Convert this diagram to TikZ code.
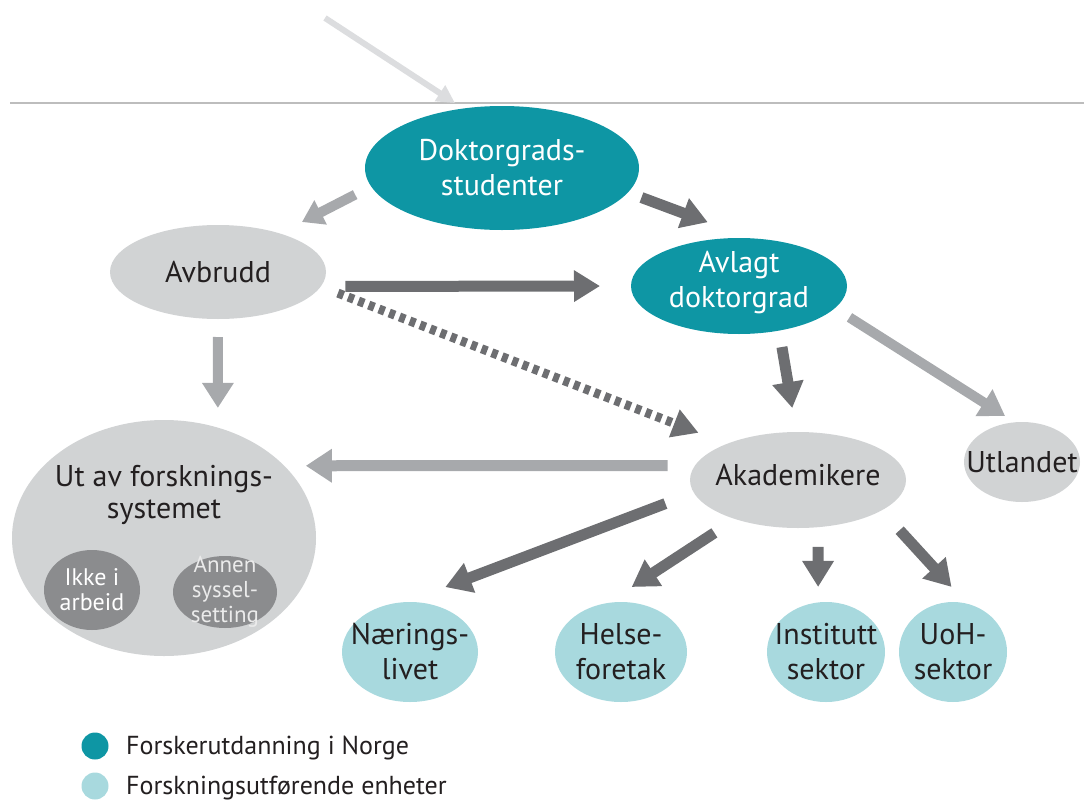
\documentclass[tikz,border=0pt]{standalone}
\usepackage{fontspec}
\setmainfont{PT Sans}
\usetikzlibrary{shapes.geometric,arrows.meta}
\definecolor{tealA}{HTML}{0E96A4}
\definecolor{tealL}{HTML}{A8D9DE}
\definecolor{greyF}{HTML}{D1D3D4}
\definecolor{greyD}{HTML}{8B8C8E}
\definecolor{arrD}{HTML}{6D6E71}
\definecolor{arrL}{HTML}{A7A9AC}
\definecolor{arrT}{HTML}{DCDDDF}
\definecolor{txtD}{HTML}{231F20}
\definecolor{ruleC}{HTML}{BDBDBD}
\begin{document}
\begin{tikzpicture}[x=1pt,y=-1pt,
  ell/.style={ellipse, inner sep=0pt, outer sep=0pt},
  tealell/.style={ell, fill=tealA},
  greyell/.style={ell, fill=greyF},
  darkell/.style={ell, fill=greyD},
  sectell/.style={ell, fill=tealL},
  lbl/.style={align=center, text=txtD, font=\fontsize{30}{35}\selectfont},
  wlbl/.style={lbl, text=white},
  slbl/.style={align=center, text=white, font=\fontsize{24}{25}\selectfont},
  legtxt/.style={anchor=west, text=txtD, font=\fontsize{26}{30}\selectfont, inner sep=0pt},
  legdot/.style={circle, minimum size=27pt, inner sep=0pt},
  darr/.style={draw=arrD, line width=11pt, -{Triangle[width=30pt,length=26pt]}},
  larr/.style={draw=arrL, line width=10pt, -{Triangle[width=30pt,length=25pt]}},
  dasharr/.style={draw=arrD, line width=9pt, dash pattern=on 6pt off 5pt, -{Triangle[width=28pt,length=26pt]}},
  toparr/.style={draw=arrT, line width=6pt, -{Triangle[width=18pt,length=18pt]}}
]
\useasboundingbox (0,0) rectangle (1084,803);

% horizontal rule
\draw[ruleC, line width=1.2pt] (10,103) -- (1084,103);

% nodes
\node[tealell, minimum width=274pt, minimum height=124pt,
  label={[wlbl]center:{Doktorgrads-\\studenter}}] (doc) at (502,168) {};
\node[greyell, minimum width=216pt, minimum height=94pt,
  label={[lbl]center:Avbrudd}] (avb) at (218,272) {};
\node[tealell, minimum width=216pt, minimum height=96pt,
  label={[wlbl, yshift=3pt]center:{Avlagt\\doktorgrad}}] (avl) at (739,286) {};
\node[greyell, minimum width=304pt, minimum height=236pt,
  label={[lbl, font=\fontsize{30}{32}\selectfont, yshift=43pt]center:{Ut av forsknings-\\systemet}}] (ut) at (164,538) {};
\node[darkell, minimum width=96pt, minimum height=80pt,
  label={[slbl]center:{Ikke i\\arbeid}}] (ikke) at (92,590) {};
\node[darkell, minimum width=104pt, minimum height=72pt,
  label={[slbl, text=white!92!black, font=\fontsize{23}{25}\selectfont]center:{Annen\\syssel-\\setting}}] (annen) at (225,592) {};
\node[greyell, minimum width=216pt, minimum height=96pt,
  label={[lbl, yshift=5pt]center:Akademikere}] (akad) at (798,480) {};
\node[greyell, minimum width=116pt, minimum height=80pt,
  label={[lbl]center:Utlandet}] (utl) at (1022,462) {};
\node[sectell, minimum width=136pt, minimum height=100pt,
  label={[lbl]center:{Nærings-\\livet}}] (naer) at (410,652) {};
\node[sectell, minimum width=132pt, minimum height=100pt,
  label={[lbl]center:{Helse-\\foretak}}] (helse) at (621,652) {};
\node[sectell, minimum width=118pt, minimum height=100pt,
  label={[lbl]center:{Institutt\\sektor}}] (inst) at (826,652) {};
\node[sectell, minimum width=108pt, minimum height=100pt,
  label={[lbl]center:{UoH-\\sektor}}] (uoh) at (953,652) {};

% legend
\node[legdot, fill=tealA] (lg1) at (95,746) {};
\node[legtxt] (lg1t) at (126,748) {Forskerutdanning i Norge};
\node[legdot, fill=tealL] (lg2) at (95,786) {};
\node[legtxt] (lg2t) at (126,788) {Forskningsutførende enheter};

% connectors
\coordinate (src) at (325,18);
\draw[toparr, shorten >=10pt] (src) -- (doc.123);
\draw[larr, -{Triangle[width=26pt,length=21pt]}, shorten <=18pt, shorten >=25pt] (doc.188) -- (avb.32);
\draw[darr, shorten <=14.5pt, shorten >=46pt] (doc.349) -- (avl.76);
\draw[darr, shorten <=24.6pt, shorten >=31pt] (avb.352) -- (avl.180);
\draw[dasharr, shorten <=18.4pt, shorten >=30.5pt] (avb.352) -- (akad.153);
\draw[larr, shorten <=18pt, shorten >=19.7pt] (avb.270) -- (ut.64);
\draw[darr, shorten <=16.7pt, shorten >=24.3pt] (avl.312) -- (akad.92);
\draw[larr, shorten <=17.3pt, shorten >=11.7pt] (avl.347) -- (utl.100);
\draw[larr, line width=11pt, -{Triangle[width=32pt,length=26pt]}, shorten <=27.4pt, shorten >=21.6pt] (akad.172) -- (ut.31);
\draw[darr, shorten <=30.5pt, shorten >=42.4pt] (akad.187) -- (naer.95);
\draw[darr, shorten <=25.1pt, shorten >=29.5pt] (akad.212) -- (helse.106);
\draw[darr, shorten <=19.8pt, shorten >=15.5pt] (akad.293) -- (inst.99);
\draw[darr, shorten <=26.8pt, shorten >=22.7pt] (akad.340) -- (uoh.74);
\end{tikzpicture}
\end{document}
